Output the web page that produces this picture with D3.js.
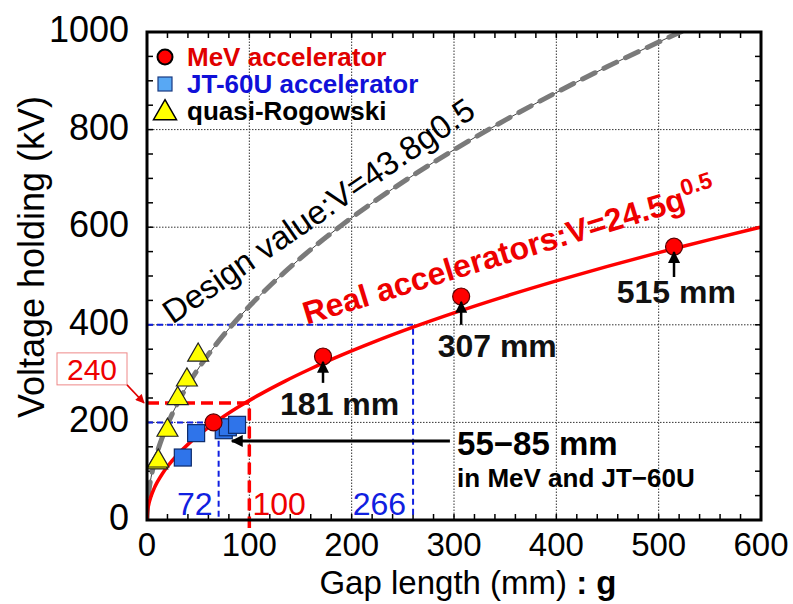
<!DOCTYPE html>
<html><head><meta charset="utf-8">
<script src="https://cdn.jsdelivr.net/npm/d3@7"></script>
<style>body{margin:0;background:#fff}svg{display:block;font-family:"Liberation Sans",Arial,sans-serif}</style>
</head><body><svg id="c" width="793" height="604"></svg>
<script>
// ---- data ----
const xTickValues = [0, 100, 200, 300, 400, 500, 600];
const yTickValues = [0, 200, 400, 600, 800, 1000];
const mevGap = [65, 172, 307, 515];
const mevV = [200, 335, 458, 560];
const jtGap = [35, 48, 75, 79, 88];
const jtV = [128, 178, 184, 190, 195];
const rogGap = [10, 11, 20, 30, 39, 50];
const rogV = [117, 121, 184, 249, 287, 338];
const realCoef = 24.5, designCoef = 43.8, expo = 0.5;
const curveGaps = [0, 0.5, 1, 2, 4, 7, 10, 15, 20, 30, 40, 55, 70, 90, 110, 135, 160, 190, 220, 260, 300, 350, 400, 450, 500, 521.3, 550, 600];
const gapLabels = ["181 mm", "307 mm", "515 mm"];
const gapLabelPos = [[130, 215], [284, 334], [459, 445]];
const gapArrows = [[172, 281, 324], [307, 400, 447], [515, 498, 549]];
const guideRed = {g: 100, v: 240};
const guideBlue1 = {g: 70, v: 200};
const guideBlue2 = {g: 260, v: 400};

const svg = d3.select("#c");
const W = 793, H = 604;
const m = {l: 147, r: 32, t: 32, b: 84};
const x = d3.scaleLinear().domain([0, 600]).range([m.l, W - m.r]);
const y = d3.scaleLinear().domain([0, 1000]).range([H - m.b, m.t]);
const x0 = x(0), x1 = x(600), y0 = y(0), y1 = y(1000);

const defs = svg.append("defs");
function marker(id, color, w, h) {
  defs.append("marker").attr("id", id).attr("viewBox", "0 0 10 10").attr("refX", 9).attr("refY", 5)
    .attr("markerWidth", w).attr("markerHeight", h).attr("markerUnits", "userSpaceOnUse").attr("orient", "auto")
    .append("path").attr("d", "M0,0 L10,5 L0,10 z").attr("fill", color);
}
marker("ab", "#000", 14, 12);
marker("ar", "#e00000", 10, 9);

// grid
const g = svg.append("g");
g.selectAll(".gx").data(xTickValues.slice(1, -1)).join("line")
  .attr("x1", d => x(d)).attr("x2", d => x(d)).attr("y1", y0).attr("y2", y1)
  .attr("stroke", "#333").attr("stroke-width", 1).attr("stroke-dasharray", "1.5,1.5");
g.selectAll(".gy").data(yTickValues.slice(1, -1)).join("line")
  .attr("x1", x0).attr("x2", x1).attr("y1", d => y(d)).attr("y2", d => y(d))
  .attr("stroke", "#333").attr("stroke-width", 1).attr("stroke-dasharray", "1.5,1.5");

// ticks (inward, all four sides)
const xMinor = d3.range(0, 601, 20), yMinor = d3.range(0, 1001, 50);
[[y0, -6], [y1, 6]].forEach(([yy, dl]) => {
  g.selectAll(null).data(xMinor).join("line").attr("x1", d => x(d)).attr("x2", d => x(d))
    .attr("y1", yy).attr("y2", yy + dl).attr("stroke", "#000").attr("stroke-width", 1.5);
});
[[x0, 6], [x1, -6]].forEach(([xx, dl]) => {
  g.selectAll(null).data(yMinor).join("line").attr("y1", d => y(d)).attr("y2", d => y(d))
    .attr("x1", xx).attr("x2", xx + dl).attr("stroke", "#000").attr("stroke-width", 1.5);
});

// guides
g.append("path").attr("d", `M${x0},${y(guideBlue2.v)}H${x(guideBlue2.g)}V${y0}`)
  .attr("fill", "none").attr("stroke", "#1020e0").attr("stroke-width", 2).attr("stroke-dasharray", "6,4");
g.append("path").attr("d", `M${x0},${y(guideBlue1.v)}H${x(guideBlue1.g)}V${y0}`)
  .attr("fill", "none").attr("stroke", "#1020e0").attr("stroke-width", 2).attr("stroke-dasharray", "6,4");
g.append("path").attr("d", `M${x0},${y(guideRed.v)}H${x(guideRed.g)}V${y0 + 8}`)
  .attr("fill", "none").attr("stroke", "#ff0000").attr("stroke-width", 3.5).attr("stroke-dasharray", "12,6");

// curves
defs.append("clipPath").attr("id", "pc").append("rect")
  .attr("x", x0).attr("y", y1).attr("width", x1 - x0).attr("height", y0 - y1);
const line = d3.line().curve(d3.curveMonotoneX);
const designPts = curveGaps.map(d => [x(d), y(designCoef * Math.pow(d, expo))]);
const realPts = curveGaps.map(d => [x(d), y(realCoef * Math.pow(d, expo))]);
const cg = g.append("g").attr("clip-path", "url(#pc)");

// design label (drawn under curve)
g.append("text").attr("transform", `translate(${x(25)},${y(400)}) rotate(-34.5)`)
  .attr("font-size", 33).attr("fill", "#000").text("Design value:V=43.8g0.5");

cg.append("path").attr("d", line(designPts)).attr("fill", "none").attr("stroke", "#444").attr("stroke-width", 1);
cg.append("path").attr("d", line(designPts)).attr("fill", "none").attr("stroke", "#7a7a7a")
  .attr("stroke-width", 5).attr("stroke-dasharray", "14,10").attr("stroke-linecap", "round");
cg.append("path").attr("d", line(realPts)).attr("fill", "none").attr("stroke", "#ff0000").attr("stroke-width", 3.5);

// markers
const tri = d3.symbol().type(d3.symbolTriangle).size(190);
g.selectAll(".tri").data(rogGap).join("path")
  .attr("transform", (d, i) => `translate(${x(d)},${y(rogV[i])})`).attr("d", tri)
  .attr("fill", "#ffff00").attr("stroke", "#222").attr("stroke-width", 1.2);
g.selectAll(".sq").data(jtGap).join("rect")
  .attr("x", d => x(d) - 8.5).attr("y", (d, i) => y(jtV[i]) - 8.5).attr("width", 17).attr("height", 17)
  .attr("fill", "#2f74ea").attr("stroke", "#0c2a6a").attr("stroke-width", 1.2);
g.selectAll(".ci").data(mevGap).join("circle")
  .attr("cx", d => x(d)).attr("cy", (d, i) => y(mevV[i])).attr("r", 8.5)
  .attr("fill", "#ff0000").attr("stroke", "#5a0000").attr("stroke-width", 1.2);

// red label
const rl = g.append("text").attr("transform", `translate(${x(156)},${y(400)}) rotate(-17)`)
  .attr("font-size", 32).attr("font-weight", "bold").attr("fill", "#ee0000");
rl.append("tspan").text("Real accelerators:V=24.5g");
rl.append("tspan").attr("font-size", 23).attr("dy", -13).text("0.5");

// gap labels and arrows
g.selectAll(".gl").data(gapLabels).join("text")
  .attr("x", (d, i) => x(gapLabelPos[i][0])).attr("y", (d, i) => y(gapLabelPos[i][1]))
  .attr("font-size", 32).attr("font-weight", "bold").attr("fill", "#111").text(d => d);
g.selectAll(".ga").data(gapArrows).join("line")
  .attr("x1", d => x(d[0])).attr("x2", d => x(d[0])).attr("y1", d => y(d[1])).attr("y2", d => y(d[2]))
  .attr("stroke", "#000").attr("stroke-width", 2.5).attr("marker-end", "url(#ab)");

// 55-85 annotation
g.append("line").attr("x1", x(296)).attr("x2", x(83)).attr("y1", y(162)).attr("y2", y(162))
  .attr("stroke", "#000").attr("stroke-width", 3).attr("marker-end", "url(#ab)");
g.append("text").attr("x", x(303)).attr("y", y(133)).attr("font-size", 33).attr("font-weight", "bold").attr("fill", "#000").text("55\u221285 mm");
g.append("text").attr("x", x(303)).attr("y", y(68)).attr("font-size", 26).attr("font-weight", "bold")
  .attr("fill", "#000").text("in MeV and JT\u221260U");

// guide labels
g.append("text").attr("x", x(64)).attr("y", y(10)).attr("text-anchor", "end").attr("font-size", 32).attr("fill", "#1020e0").text("72");
g.append("text").attr("x", x(103)).attr("y", y(10)).attr("font-size", 32).attr("fill", "#ee0000").text("100");
g.append("text").attr("x", x(201)).attr("y", y(10)).attr("font-size", 32).attr("fill", "#1020e0").text("266");

// 240 box
const bx = x0 - 90, by = y(240) - 50;
g.append("rect").attr("x", bx).attr("y", by).attr("width", 70).attr("height", 32)
  .attr("fill", "#fff").attr("stroke", "#e88").attr("stroke-width", 1);
g.append("text").attr("x", bx + 35).attr("y", by + 27).attr("text-anchor", "middle")
  .attr("font-size", 30).attr("fill", "#ee0000").text("240");
g.append("line").attr("x1", bx + 70).attr("y1", by + 32).attr("x2", x0 - 3).attr("y2", y(240))
  .attr("stroke", "#e00000").attr("stroke-width", 1.5).attr("marker-end", "url(#ar)");

// frame
g.append("rect").attr("x", x0).attr("y", y1).attr("width", x1 - x0).attr("height", y0 - y1)
  .attr("fill", "none").attr("stroke", "#000").attr("stroke-width", 3);

// tick labels
g.selectAll(".xl").data(xTickValues).join("text").attr("x", d => x(d)).attr("y", y0 + 36)
  .attr("text-anchor", "middle").attr("font-size", 33).attr("fill", "#000").text(d => d);
g.selectAll(".yl").data(yTickValues).join("text").attr("x", x0 - 18).attr("y", d => y(d) + 10)
  .attr("text-anchor", "end").attr("font-size", 36).attr("fill", "#000").text(d => d);

// axis titles
const xt = g.append("text").attr("x", 468).attr("y", 594).attr("text-anchor", "middle").attr("font-size", 33).attr("fill", "#000");
xt.append("tspan").text("Gap length (mm)");
xt.append("tspan").attr("font-weight", "bold").text(" : g");
g.append("text").attr("transform", `translate(44,257) rotate(-90)`).attr("text-anchor", "middle")
  .attr("font-size", 36).attr("fill", "#000").text("Voltage holding (kV)");

// legend
const lx = x0 + 18, ly = y1 + 25, ls = 27;
g.append("circle").attr("cx", lx).attr("cy", ly).attr("r", 7.5).attr("fill", "#ff0000").attr("stroke", "#000").attr("stroke-width", 2);
g.append("rect").attr("x", lx - 7).attr("y", ly + ls - 7).attr("width", 14).attr("height", 14).attr("fill", "#58a8f4").attr("stroke", "#1a3a80").attr("stroke-width", 1.2);
g.append("path").attr("transform", `translate(${lx},${ly + 2 * ls + 2})`).attr("d", d3.symbol().type(d3.symbolTriangle).size(230))
  .attr("fill", "#ffff00").attr("stroke", "#000").attr("stroke-width", 1.5);
const legTexts = ["MeV accelerator", "JT-60U accelerator", "quasi-Rogowski"];
const legColors = ["#e00000", "#1010d8", "#000"];
g.selectAll(".lt").data(legTexts).join("text").attr("x", lx + 22).attr("y", (d, i) => ly + i * ls + 9)
  .attr("font-size", 26).attr("font-weight", "bold").attr("fill", (d, i) => legColors[i]).text(d => d);
</script></body></html>
